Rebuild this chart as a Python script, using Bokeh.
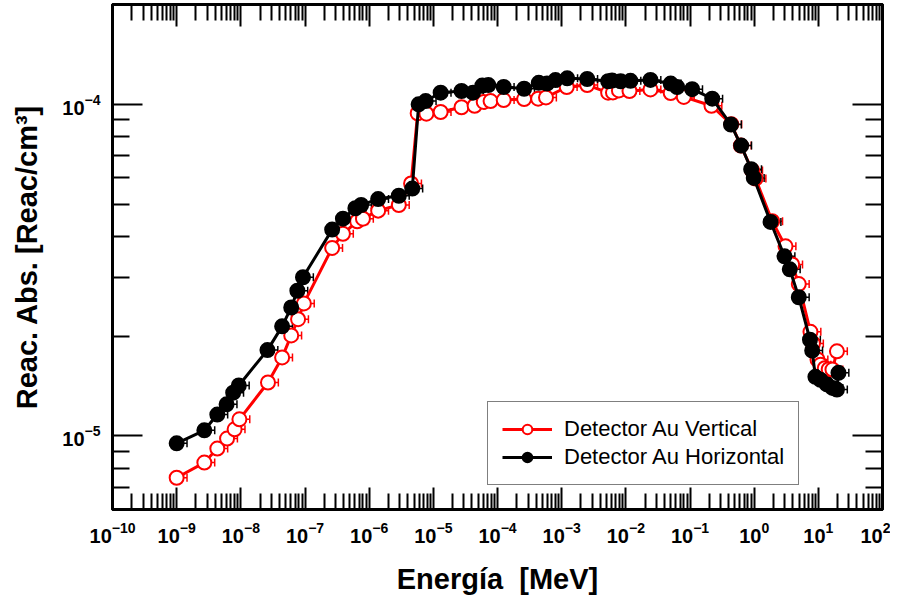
from bokeh.plotting import figure
from bokeh.models import LogAxis, FixedTicker, Whisker, TeeHead, ColumnDataSource, Legend, CustomJSTickFormatter
from bokeh.embed import file_html
from bokeh.resources import INLINE

# ---- data ----
E_vert = [1.0e-9, 2.7e-9, 4.3e-9, 6.1e-9, 8.0e-9, 9.5e-9, 2.65e-8, 4.4e-8, 6.1e-8, 7.8e-8, 9.6e-8,
          2.65e-7, 3.9e-7, 6.5e-7, 8.0e-7, 1.38e-6, 2.9e-6, 4.5e-6,
          5.7e-6, 7.8e-6, 1.3e-5, 2.75e-5, 4.4e-5, 6.1e-5, 7.8e-5, 1.25e-4, 2.6e-4, 4.3e-4, 5.7e-4,
          1.2e-3, 2.5e-3, 5.3e-3, 6.3e-3, 7.8e-3, 1.14e-2, 2.42e-2, 5.0e-2, 8.0e-2, 0.216,
          0.44, 0.62, 0.93, 1.05, 1.91, 3.08, 3.91, 4.96, 7.54, 8.25, 9.7, 10.8, 12.6, 14.5, 16.6, 19.5]
R_vert = [7.48e-6, 8.31e-6, 9.16e-6, 9.82e-6, 1.047e-5, 1.122e-5, 1.449e-5, 1.725e-5, 2.01e-5, 2.25e-5, 2.51e-5,
          3.69e-5, 4.07e-5, 4.44e-5, 4.52e-5, 4.78e-5, 4.97e-5, 5.77e-5,
          9.40e-5, 9.37e-5, 9.48e-5, 9.8e-5, 9.9e-5, 1.017e-4, 1.023e-4, 1.030e-4, 1.037e-4, 1.040e-4, 1.049e-4,
          1.128e-4, 1.143e-4, 1.084e-4, 1.086e-4, 1.101e-4, 1.097e-4, 1.109e-4, 1.082e-4, 1.053e-4, 9.9e-5,
          8.71e-5, 7.51e-5, 6.32e-5, 5.97e-5, 4.44e-5, 3.73e-5, 3.29e-5, 2.87e-5, 2.06e-5, 1.90e-5, 1.70e-5,
          1.64e-5, 1.60e-5, 1.59e-5, 1.585e-5, 1.80e-5]

E_horiz = [1.0e-9, 2.7e-9, 4.3e-9, 6.0e-9, 7.6e-9, 9.3e-9, 2.6e-8, 4.4e-8, 6.1e-8, 7.6e-8, 9.3e-8,
           2.65e-7, 3.9e-7, 6.1e-7, 7.5e-7, 1.38e-6, 2.9e-6, 4.7e-6,
           5.9e-6, 7.6e-6, 1.3e-5, 2.75e-5, 4.15e-5, 5.8e-5, 7.2e-5, 1.25e-4, 2.6e-4, 4.4e-4, 5.9e-4, 8.0e-4,
           1.22e-3, 2.5e-3, 5.3e-3, 6.1e-3, 8.3e-3, 1.18e-2, 2.42e-2, 5.0e-2, 6.3e-2, 0.108, 0.222,
           0.435, 0.627, 0.897, 0.986, 1.80, 2.97, 3.59, 4.96, 7.41, 8.02, 9.0, 10.8, 13.6, 16.6, 19.5, 20.6]
R_horiz = [9.5e-6, 1.04e-5, 1.16e-5, 1.245e-5, 1.35e-5, 1.42e-5, 1.815e-5, 2.14e-5, 2.44e-5, 2.74e-5, 3.01e-5,
           4.19e-5, 4.52e-5, 4.86e-5, 4.97e-5, 5.18e-5, 5.30e-5, 5.57e-5,
           1.0e-4, 1.023e-4, 1.084e-4, 1.097e-4, 1.084e-4, 1.139e-4, 1.143e-4, 1.128e-4, 1.114e-4, 1.161e-4,
           1.155e-4, 1.183e-4, 1.198e-4, 1.192e-4, 1.174e-4, 1.180e-4, 1.174e-4, 1.177e-4, 1.185e-4, 1.155e-4,
           1.128e-4, 1.111e-4, 1.040e-4,
           8.69e-5, 7.51e-5, 6.37e-5, 6.0e-5, 4.42e-5, 3.48e-5, 3.18e-5, 2.62e-5, 1.95e-5, 1.81e-5, 1.507e-5,
           1.476e-5, 1.43e-5, 1.396e-5, 1.38e-5, 1.55e-5]

x_exponents = list(range(-10, 3))
y_exponents = [-6, -5, -4]

labels = ["Detector Au Vertical", "Detector Au Horizontal"]
x_title = "Energía \u00a0[MeV]"
y_title = "Reac. Abs. [Reac/cm³]"

# ---- ticks ----
x_major = [10.0 ** k for k in x_exponents]
x_minor = [m * 10.0 ** k for k in x_exponents[:-1] for m in range(2, 10)]
y_major = [10.0 ** k for k in y_exponents]
y_minor = [m * 10.0 ** k for k in y_exponents for m in range(2, 10)]
xt = FixedTicker(ticks=x_major, minor_ticks=x_minor)
yt = FixedTicker(ticks=y_major, minor_ticks=y_minor)

FONT = "Liberation Sans"

p = figure(width=890, height=597, x_axis_type="log", y_axis_type="log",
           x_range=(1e-10, 1e2), y_range=(6.0e-6, 2.0e-4),
           output_backend="svg", toolbar_location=None,
           min_border_left=112, min_border_right=8, min_border_top=4, min_border_bottom=83)
p.grid.visible = False
p.outline_line_color = "black"
p.outline_line_width = 3
p.background_fill_color = "white"
p.border_fill_color = "white"

def style_axis(ax, tin, tmin):
    ax.axis_line_width = 3
    ax.axis_line_color = "black"
    ax.major_tick_in = tin
    ax.major_tick_out = 0
    ax.minor_tick_in = tmin
    ax.minor_tick_out = 0
    ax.major_tick_line_width = 2
    ax.minor_tick_line_width = 2
    ax.major_tick_line_color = "black"
    ax.minor_tick_line_color = "black"
    ax.major_label_text_font = FONT
    ax.major_label_text_font_style = "bold"
    ax.major_label_text_font_size = "20px"
    ax.major_label_text_color = "black"
    ax.axis_label_text_font = FONT
    ax.axis_label_text_font_style = "bold"
    ax.axis_label_text_font_size = "29px"
    ax.axis_label_text_color = "black"

xa = p.xaxis[0]
xa.ticker = xt
style_axis(xa, 22, 16)
xa.major_label_standoff = 12
xa.axis_label = x_title
xa.axis_label_standoff = 17

ya = p.yaxis[0]
ya.ticker = yt
style_axis(ya, 30, 17)
ya.major_label_standoff = 12
ya.axis_label = y_title
ya.axis_label_standoff = 16

blank = CustomJSTickFormatter(code="return ''")
top = LogAxis(ticker=xt, formatter=blank)
style_axis(top, 22, 16)
p.add_layout(top, "above")
right = LogAxis(ticker=yt, formatter=blank)
style_axis(right, 30, 17)
p.add_layout(right, "right")

# ---- series ----
ERR = 1.45
src_v = ColumnDataSource(dict(x=E_vert, y=R_vert, xu=[e * ERR for e in E_vert]))
src_h = ColumnDataSource(dict(x=E_horiz, y=R_horiz, xu=[e * ERR for e in E_horiz]))

for src, col in ((src_v, "red"), (src_h, "black")):
    w = Whisker(source=src, base="y", lower="x", upper="xu", dimension="width",
                line_color=col, line_width=1.5,
                upper_head=TeeHead(size=8, line_color=col, line_width=1.5), lower_head=None)
    p.add_layout(w)

lv = p.line("x", "y", source=src_v, line_color="red", line_width=3)
sv = p.scatter("x", "y", source=src_v, size=14, marker="circle", line_color="red", line_width=2, fill_color="white")
lh = p.line("x", "y", source=src_h, line_color="black", line_width=3)
sh = p.scatter("x", "y", source=src_h, size=14, marker="circle", line_color="black", line_width=2, fill_color="black")

leg = Legend(items=[(labels[0], [lv, sv]), (labels[1], [lh, sh])], location=(375, 24))
leg.label_text_font = FONT
leg.label_text_font_size = "22px"
leg.label_text_color = "black"
leg.glyph_width = 50
leg.glyph_height = 24
leg.label_height = 24
leg.label_standoff = 12
leg.padding = 14
leg.spacing = 2
leg.margin = 0
leg.border_line_color = "black"
leg.border_line_width = 1.5
leg.background_fill_alpha = 1
p.add_layout(leg, "center")

open("out.html", "w").write(file_html(p, INLINE))
